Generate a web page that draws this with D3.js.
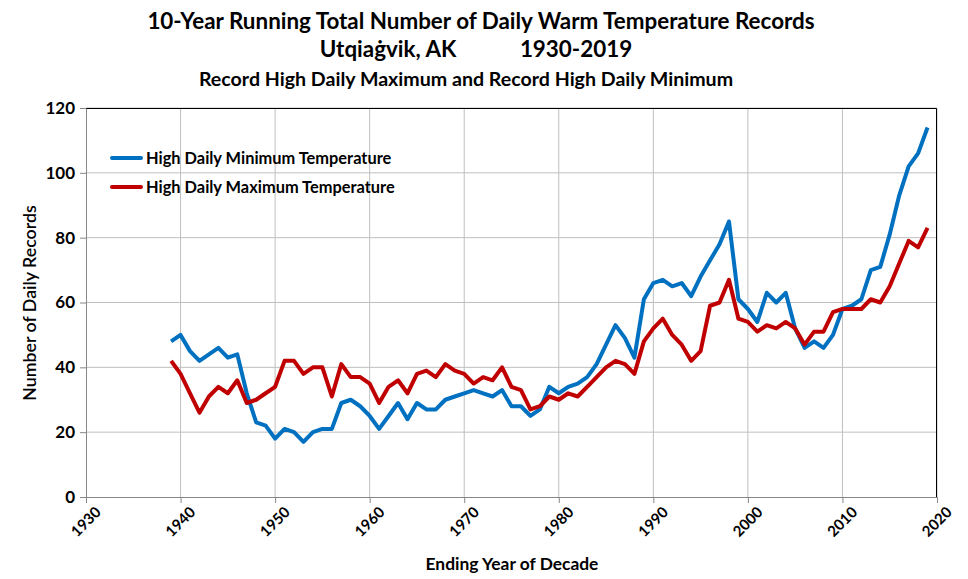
<!DOCTYPE html>
<html>
<head>
<meta charset="utf-8">
<script src="https://cdn.jsdelivr.net/npm/d3@7"></script>
<style>
  body { margin: 0; background: #fff; }
  svg text { font-family: Lato, "Open Sans", sans-serif; fill: #000; }
</style>
</head>
<body>
<div id="chart"></div>
<script>
// ending year of each 10-year window
const years = d3.range(1939, 2020);

// record high daily minimum, 1939..2019
const highMin = [
  48, 50, 45, 42, 44, 46, 43, 44, 32, 23,
  22, 18, 21, 20, 17, 20, 21, 21, 29, 30,
  28, 25, 21, 25, 29, 24, 29, 27, 27, 30,
  31, 32, 33, 32, 31, 33, 28, 28, 25, 27,
  34, 32, 34, 35, 37, 41, 47, 53, 49, 43,
  61, 66, 67, 65, 66, 62, 68, 73, 78, 85,
  61, 58, 54, 63, 60, 63, 52, 46, 48, 46,
  50, 58, 59, 61, 70, 71, 81, 93, 102, 106,
  114
];

// record high daily maximum, 1939..2019
const highMax = [
  42, 38, 32, 26, 31, 34, 32, 36, 29, 30,
  32, 34, 42, 42, 38, 40, 40, 31, 41, 37,
  37, 35, 29, 34, 36, 32, 38, 39, 37, 41,
  39, 38, 35, 37, 36, 40, 34, 33, 27, 28,
  31, 30, 32, 31, 34, 37, 40, 42, 41, 38,
  48, 52, 55, 50, 47, 42, 45, 59, 60, 67,
  55, 54, 51, 53, 52, 54, 52, 47, 51, 51,
  57, 58, 58, 58, 61, 60, 65, 72, 79, 77,
  83
];

const xTicks = d3.range(1930, 2021, 10);
const yTicks = d3.range(0, 121, 20);

const seriesNames = ["High Daily Minimum Temperature", "High Daily Maximum Temperature"];
const seriesColors = ["#0070C0", "#C00000"];

const W = 968, H = 579;
const margin = { left: 86, top: 108, right: 31, bottom: 82 };
const width = W - margin.left - margin.right;
const height = H - margin.top - margin.bottom;

const svg = d3.select("#chart").append("svg")
  .attr("width", W)
  .attr("height", H);

const x = d3.scaleLinear().domain([1930, 2020]).range([0, width]);
const y = d3.scaleLinear().domain([0, 120]).range([height, 0]);

const g = svg.append("g")
  .attr("transform", `translate(${margin.left},${margin.top})`);

// gridlines
g.append("g")
  .selectAll("line")
  .data(yTicks.slice(1))
  .enter().append("line")
  .attr("x1", 0).attr("x2", width)
  .attr("y1", d => y(d)).attr("y2", d => y(d))
  .attr("stroke", "#bfbfbf");

g.append("g")
  .selectAll("line")
  .data(xTicks.slice(1))
  .enter().append("line")
  .attr("y1", 0).attr("y2", height)
  .attr("x1", d => x(d)).attr("x2", d => x(d))
  .attr("stroke", "#bfbfbf");

// frame top/right
g.append("path")
  .attr("d", `M0,0.5H${width - 0.5}V${height}`)
  .attr("fill", "none")
  .attr("stroke", "#000");

// axes
const xAxis = g.append("g")
  .attr("transform", `translate(0,${height})`)
  .call(d3.axisBottom(x).tickValues(xTicks).tickFormat(d3.format("d")).tickSize(6).tickSizeOuter(0));
xAxis.selectAll(".domain, .tick line").attr("stroke", "#868686");
xAxis.selectAll("text")
  .attr("font-size", 15)
  .attr("font-weight", "bold")
  .attr("text-anchor", "end")
  .attr("dx", "0.25em")
  .attr("dy", "0.6em")
  .attr("transform", "translate(0,6) rotate(-45)");

const yAxis = g.append("g")
  .call(d3.axisLeft(y).tickValues(yTicks).tickSize(6).tickSizeOuter(0));
yAxis.selectAll(".domain, .tick line").attr("stroke", "#868686");
yAxis.selectAll("text")
  .attr("font-size", 17)
  .attr("font-weight", "bold")
  .attr("x", -11);

// lines
const line = d3.line()
  .x((d, i) => x(years[i]))
  .y(d => y(d));

[highMin, highMax].forEach((s, k) => {
  g.append("path")
    .datum(s)
    .attr("fill", "none")
    .attr("stroke", seriesColors[k])
    .attr("stroke-width", 4)
    .attr("stroke-linejoin", "round")
    .attr("d", line);
});

// legend
const legend = svg.append("g").attr("transform", "translate(112,158)");
seriesNames.forEach((name, k) => {
  const row = legend.append("g").attr("transform", `translate(0,${k * 29})`);
  row.append("line")
    .attr("x1", 0).attr("x2", 29)
    .attr("stroke", seriesColors[k])
    .attr("stroke-width", 4)
    .attr("stroke-linecap", "round");
  row.append("text")
    .attr("x", 34)
    .attr("y", 6)
    .attr("font-size", 16.4)
    .attr("font-weight", "bold")
    .text(name);
});

// titles
svg.append("text")
  .attr("x", 481).attr("y", 29)
  .attr("text-anchor", "middle")
  .attr("font-size", 22.4)
  .attr("font-weight", "bold")
  .text("10-Year Running Total Number of Daily Warm Temperature Records");

svg.append("text")
  .attr("x", 388).attr("y", 57)
  .attr("text-anchor", "middle")
  .attr("font-size", 22.4)
  .attr("font-weight", "bold")
  .text("Utqiaġvik, AK");

svg.append("text")
  .attr("x", 576).attr("y", 57)
  .attr("text-anchor", "middle")
  .attr("font-size", 22.4)
  .attr("font-weight", "bold")
  .text("1930-2019");

svg.append("text")
  .attr("x", 466).attr("y", 86)
  .attr("text-anchor", "middle")
  .attr("font-size", 19.6)
  .attr("font-weight", "bold")
  .text("Record High Daily Maximum and Record High Daily Minimum");

svg.append("text")
  .attr("transform", "translate(36,303) rotate(-90)")
  .attr("text-anchor", "middle")
  .attr("font-size", 17.8)
  .attr("font-weight", "600")
  .text("Number of Daily Records");

svg.append("text")
  .attr("x", 512).attr("y", 570)
  .attr("text-anchor", "middle")
  .attr("font-size", 17.4)
  .attr("font-weight", "bold")
  .text("Ending Year of Decade");
</script>
</body>
</html>
